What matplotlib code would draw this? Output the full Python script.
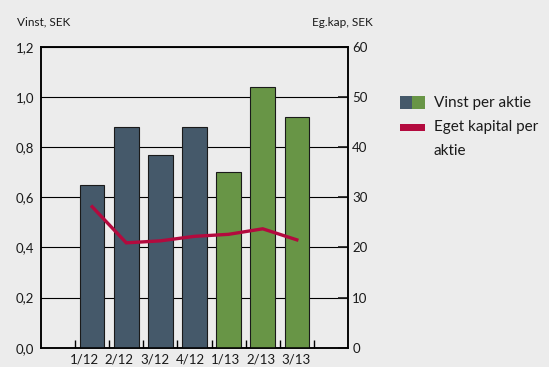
import numpy as np
import matplotlib
matplotlib.use("Agg")
import matplotlib.pyplot as plt
from matplotlib.patches import Rectangle

plt.rcParams['font.family'] = ['Lato', 'DejaVu Sans']

# quarterly figures
quarters = ['1/12', '2/12', '3/12', '4/12', '1/13', '2/13', '3/13']
eps = [0.65, 0.88, 0.77, 0.88, 0.70, 1.04, 0.92]          # Vinst per aktie
equity = [28.1, 20.9, 21.3, 22.2, 22.6, 23.7, 21.5]       # Eget kapital per aktie
bar_colors = ['#45596a'] * 4 + ['#689546'] * 3
n_slots = 9  # one empty slot either side of the bars

bg = '#ececec'
fig = plt.figure(figsize=(5.49, 3.67), dpi=100, facecolor=bg)
ax = fig.add_axes([41 / 549, 19.3 / 367, 307 / 549, 301 / 367])
ax.set_facecolor(bg)

pos = np.arange(1, len(eps) + 1)
ax.bar(pos, eps, width=0.72, color=bar_colors, edgecolor='#1a1a1a', linewidth=0.8, zorder=3)
ax.set_xlim(-0.5, n_slots - 0.5)
ax.set_ylim(0, 1.2)
yt = np.arange(0, 1.21, 0.2)
ax.set_yticks(yt)
ax.set_yticklabels([f'{v:.1f}'.replace('.', ',') for v in yt])
ax.grid(axis='y', color='black', linewidth=0.8, zorder=0)
ax.set_axisbelow(True)

# labels sit on a slightly wider pitch than the bars
ax.set_xticks(0.76 + 1.035 * np.arange(len(quarters)))
ax.set_xticklabels(quarters)
ax.set_xticks(np.arange(0.5, n_slots - 1, 1), minor=True)
ax.tick_params(axis='x', which='major', length=0, pad=4.5, labelsize=9.5, colors='#1a1a1a')
ax.tick_params(axis='x', which='minor', direction='in', length=6, width=1, color='black')
ax.tick_params(axis='y', length=0, pad=5, labelsize=9.5, colors='#1a1a1a')

ax2 = ax.twinx()
ax2.plot(pos, equity, color='#b30a3e', linewidth=2.4, solid_joinstyle='miter', zorder=4)
ax2.set_ylim(0, 60)
ax2.set_yticks(range(0, 61, 10))
ax2.tick_params(axis='y', direction='in', length=7, width=1.2, pad=3, labelsize=9.5, colors='#1a1a1a')

for a in (ax, ax2):
    for s in a.spines.values():
        s.set_color('black')
        s.set_linewidth(1.1)

fig.text(17 / 549, 1 - 22 / 367, 'Vinst, SEK', fontsize=8.5, va='center', ha='left', color='#1a1a1a')
fig.text(373 / 549, 1 - 22 / 367, 'Eg.kap, SEK', fontsize=8.5, va='center', ha='right', color='#1a1a1a')

# legend
W, H = 549, 367
fig.add_artist(Rectangle((400 / W, 1 - 109 / H), 12.5 / W, 13 / H, transform=fig.transFigure,
                         facecolor='#45596a', edgecolor='none'))
fig.add_artist(Rectangle((412.5 / W, 1 - 109 / H), 12.5 / W, 13 / H, transform=fig.transFigure,
                         facecolor='#689546', edgecolor='none'))
fig.add_artist(Rectangle((400 / W, 1 - 131 / H), 25 / W, 7.5 / H, transform=fig.transFigure,
                         facecolor='#b30a3e', edgecolor='none'))
fig.text(434 / W, 1 - 103 / H, 'Vinst per aktie', fontsize=11, va='center', ha='left', color='#1a1a1a')
fig.text(434 / W, 1 - 127 / H, 'Eget kapital per', fontsize=11, va='center', ha='left', color='#1a1a1a')
fig.text(434 / W, 1 - 151 / H, 'aktie', fontsize=11, va='center', ha='left', color='#1a1a1a')

fig.savefig('out.png', dpi=100, facecolor=bg)
